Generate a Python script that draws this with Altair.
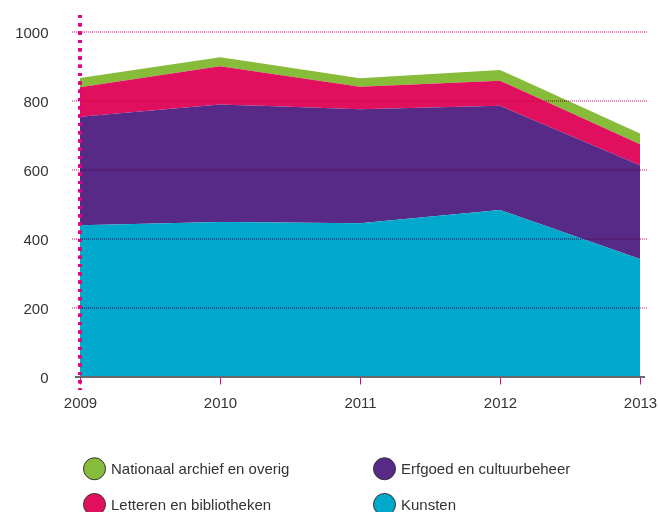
import altair as alt
import pandas as pd

years = ["2009", "2010", "2011", "2012", "2013"]
kunsten = [440, 449, 446, 484, 342]
erfgoed = [314, 341, 330, 302, 272]
letteren = [86, 111, 65, 73, 61]
nationaal = [27, 26, 25, 31, 31]

series_names = ["Nationaal archief en overig", "Letteren en bibliotheken",
                "Erfgoed en cultuurbeheer", "Kunsten"]
series_colors = ["#86bc3a", "#e0105f", "#572a87", "#00a8cc"]
stack_rank = {"Kunsten": 0, "Erfgoed en cultuurbeheer": 1,
              "Letteren en bibliotheken": 2, "Nationaal archief en overig": 3}
series_values = {
    "Nationaal archief en overig": nationaal,
    "Erfgoed en cultuurbeheer": erfgoed,
    "Letteren en bibliotheken": letteren,
    "Kunsten": kunsten,
}
grid_values = [200, 400, 600, 800, 1000]

rows = []
for name in series_names:
    for yr, v in zip(years, series_values[name]):
        rows.append({"year": yr, "series": name, "value": v, "rank": stack_rank[name]})
df = pd.DataFrame(rows)
grid_df = pd.DataFrame({"v": grid_values})

FONT = "Liberation Sans"
PINK = "#e6007e"
FS = 15

xscale = alt.Scale(type="point", padding=0, domain=years)
yscale = alt.Scale(domain=[0, 1000], nice=False)

area = alt.Chart(df).mark_area(opacity=1).encode(
    x=alt.X("year:O", scale=xscale, sort=years,
            axis=alt.Axis(title=None, labelAngle=0, domain=False, ticks=True,
                          tickColor=PINK, tickSize=7, tickWidth=1,
                          labelPadding=11, labelFontSize=FS, labelFont=FONT,
                          labelColor="#333333", grid=False)),
    y=alt.Y("value:Q", stack="zero", scale=yscale,
            axis=alt.Axis(title=None, values=[0, 200, 400, 600, 800, 1000], format="d",
                          domain=False, ticks=False, grid=False, labelPadding=32,
                          labelFontSize=FS, labelFont=FONT, labelColor="#333333")),
    color=alt.Color("series:N",
                    scale=alt.Scale(domain=series_names, range=series_colors),
                    legend=alt.Legend(title=None, orient="none", legendX=3, legendY=425,
                                      columns=2, direction="vertical",
                                      symbolType="circle", symbolSize=484,
                                      symbolStrokeColor="#333333", symbolStrokeWidth=1,
                                      symbolOpacity=1, labelFontSize=FS, labelFont=FONT,
                                      labelColor="#333333", labelOffset=5, labelLimit=400,
                                      columnPadding=81, rowPadding=9, padding=0)),
    order=alt.Order("rank:Q", sort="ascending"),
)

grid = alt.Chart(grid_df).mark_rule(color=PINK, strokeDash=[1, 1], strokeWidth=1,
                                     blend="multiply").encode(
    y=alt.Y("v:Q", scale=yscale),
    x=alt.value(-8),
    x2=alt.value(568),
)

baseline = alt.Chart(grid_df).mark_rule(color="#666666", strokeWidth=1).encode(
    y=alt.datum(0, scale=yscale),
    x=alt.value(-5),
    x2=alt.value(565),
)

vline = alt.Chart(grid_df).mark_rule(color=PINK, strokeDash=[3, 5.3], strokeWidth=3).encode(
    x=alt.datum("2009"),
    y=alt.value(-17),
    y2=alt.value(358),
)

chart = alt.layer(area, grid, baseline, vline).properties(
    width=560, height=345,
    autosize=alt.AutoSizeParams(type="none"),
    padding={"left": 80, "top": 32, "right": 18, "bottom": 135},
).configure_view(stroke=None)

chart.save("out.html", embed_options={"renderer": "svg", "actions": False})
